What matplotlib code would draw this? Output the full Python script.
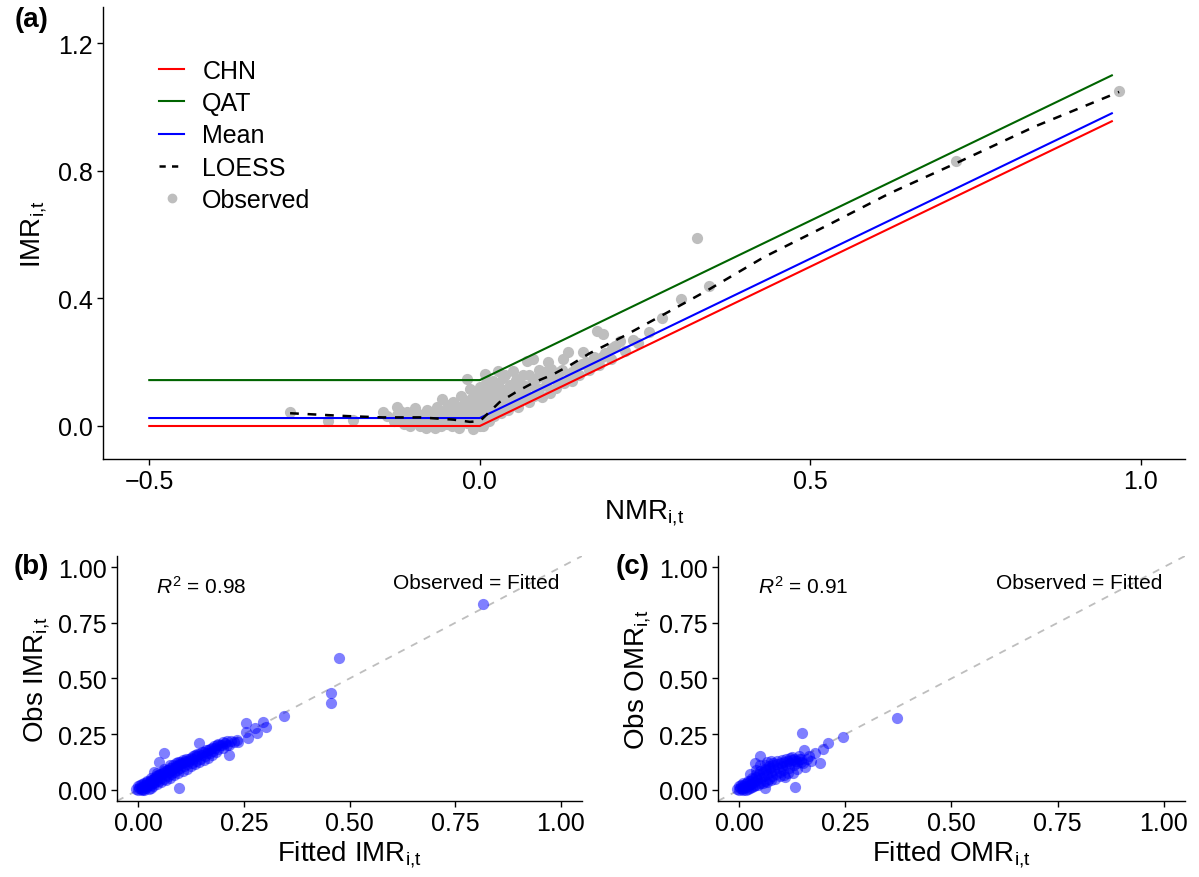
import numpy as np
import matplotlib
matplotlib.use('Agg')
from matplotlib import pyplot as plt
from matplotlib.lines import Line2D

plt.rcParams['font.family'] = ['Liberation Sans', 'DejaVu Sans']
plt.rcParams['mathtext.fontset'] = 'custom'
plt.rcParams['mathtext.rm'] = 'Liberation Sans'
plt.rcParams['mathtext.it'] = 'Liberation Sans:italic'

# ---- panel (a): model lines (NMR -> IMR) ----
line_x = [-0.5, 0.0, 0.956]
chn_y = [0.0, 0.0, 0.956]
qat_y = [0.144, 0.144, 1.100]
mean_y = [0.025, 0.025, 0.981]

loess_x = [-0.287, -0.2, -0.147, -0.09, -0.04, -0.015, 0.0, 0.03, 0.056, 0.083,
           0.109, 0.136, 0.166, 0.216, 0.28, 0.343, 0.43, 0.53, 0.62, 0.721,
           0.84, 0.967]
loess_y = [0.040, 0.031, 0.027, 0.027, 0.020, 0.013, 0.015, 0.075, 0.108, 0.138,
           0.160, 0.190, 0.228, 0.280, 0.352, 0.424, 0.530, 0.634, 0.730, 0.825,
           0.940, 1.048]

obs_nmr = [-0.287, -0.23, -0.192, -0.147, -0.126, -0.12, -0.13, -0.115, -0.108, -0.1,
           -0.095, -0.09, -0.085, -0.08, -0.078, -0.072, -0.068, -0.065, -0.06, -0.057,
           -0.055, -0.05, -0.048, -0.045, -0.04, -0.038, -0.035, -0.032, -0.028, -0.027,
           -0.024, -0.02, -0.02, -0.018, -0.015, -0.014, -0.012, -0.01, -0.008, -0.006,
           -0.004, -0.002, 0.0, 0.0, 0.0,
           -0.14, -0.125, -0.118, -0.11, -0.105, -0.098, -0.092, -0.088, -0.082, -0.076,
           -0.07, -0.062, -0.058, -0.052, -0.046, -0.042, -0.036, -0.03, -0.026, -0.022,
           -0.016, -0.012, -0.008, -0.004, -0.002,
           0.003, 0.004, 0.006, 0.008, 0.008, 0.01, 0.012, 0.014, 0.016, 0.018,
           0.02, 0.022, 0.025, 0.027, 0.028, 0.03, 0.032, 0.035, 0.036, 0.04,
           0.042, 0.045, 0.048, 0.05, 0.052, 0.055, 0.058, 0.06, 0.064, 0.066,
           0.07, 0.071, 0.074, 0.078, 0.08, 0.082, 0.086, 0.09, 0.094, 0.098,
           0.1, 0.103, 0.106, 0.11, 0.115, 0.12, 0.126, 0.128, 0.133, 0.136,
           0.14, 0.145, 0.15, 0.156, 0.16, 0.165, 0.172, 0.177, 0.18, 0.186,
           0.19, 0.198, 0.205, 0.212, 0.22, 0.232, 0.24, 0.256, 0.275, 0.304,
           0.002, 0.005, 0.01, 0.014, 0.018, 0.024, 0.03, 0.034, 0.038, 0.044,
           0.05, 0.054, 0.06, 0.068, 0.075, 0.085, 0.09, 0.1, 0.108, 0.118,
           0.125, 0.14, 0.155, 0.17, 0.185, 0.2,
           0.328, 0.346, 0.721, 0.967]
obs_imr = [0.044, 0.016, 0.019, 0.044, 0.06, 0.047, 0.015, 0.005, 0.03, 0.015,
           0.04, 0.0, 0.025, 0.05, 0.01, 0.035, -0.005, 0.06, 0.02, 0.085,
           0.045, 0.005, 0.065, 0.03, 0.075, 0.015, 0.05, -0.005, 0.094, 0.035,
           0.07, 0.147, 0.01, 0.055, 0.116, 0.085, 0.03, -0.008, 0.1, 0.06,
           0.02, 0.08, 0.122, 0.045, 0.0,
           0.03, 0.035, 0.02, 0.045, 0.0, 0.055, 0.02, 0.035, -0.005, 0.045,
           0.015, 0.04, 0.0, 0.025, 0.05, 0.0, 0.03, 0.06, 0.015, 0.045,
           0.07, 0.005, 0.04, 0.1, 0.055,
           0.1, 0.02, 0.065, 0.163, 0.04, 0.135, 0.085, 0.015, 0.11, 0.055,
           0.14, 0.03, 0.09, 0.173, 0.065, 0.12, 0.04, 0.15, 0.08, 0.105,
           0.05, 0.13, 0.07, 0.173, 0.095, 0.145, 0.06, 0.115, 0.085, 0.16,
           0.1, 0.204, 0.075, 0.13, 0.21, 0.095, 0.15, 0.115, 0.09, 0.17,
           0.13, 0.2, 0.105, 0.15, 0.12, 0.17, 0.21, 0.135, 0.232, 0.16,
           0.14, 0.185, 0.16, 0.232, 0.2, 0.175, 0.215, 0.298, 0.19, 0.289,
           0.23, 0.21, 0.25, 0.267, 0.235, 0.27, 0.26, 0.295, 0.339, 0.398,
           0.075, 0.0, 0.11, 0.05, 0.09, 0.125, 0.05, 0.1, 0.16, 0.08,
           0.12, 0.075, 0.14, 0.125, 0.16, 0.12, 0.175, 0.15, 0.18, 0.14,
           0.175, 0.17, 0.195, 0.19, 0.215, 0.245,
           0.59, 0.44, 0.83, 1.052]

# ---- panel (b): fitted vs observed IMR ----
fit_imr = [0.0, 0.003, 0.006, 0.0, 0.01, 0.012, 0.015, 0.018, 0.02, 0.022,
           0.025, 0.028, 0.03, 0.032, 0.035, 0.038, 0.04, 0.037, 0.042, 0.045,
           0.048, 0.05, 0.052, 0.055, 0.058, 0.06, 0.062, 0.065, 0.068, 0.07,
           0.072, 0.075, 0.078, 0.08, 0.083, 0.085, 0.088, 0.09, 0.092, 0.095,
           0.098, 0.1, 0.103, 0.106, 0.108, 0.11, 0.114, 0.116, 0.12, 0.124,
           0.127, 0.13, 0.134, 0.137, 0.14, 0.144, 0.147, 0.15, 0.155, 0.158,
           0.162, 0.166, 0.17, 0.174, 0.178, 0.182, 0.186, 0.19, 0.194, 0.198,
           0.2, 0.205, 0.21, 0.214, 0.22, 0.226, 0.233, 0.237,
           0.005, 0.01, 0.015, 0.02, 0.025, 0.03, 0.035, 0.04, 0.045, 0.05,
           0.055, 0.06, 0.065, 0.07, 0.075, 0.08, 0.085, 0.09, 0.095, 0.1,
           0.105, 0.11, 0.115, 0.12, 0.125, 0.13, 0.135, 0.14, 0.145, 0.15,
           0.155, 0.16, 0.165, 0.17, 0.175, 0.18, 0.185, 0.19, 0.2, 0.21,
           0.02, 0.03, 0.045, 0.06, 0.075, 0.095, -0.005, 0.008, 0.015, 0.03,
           0.143, 0.061, 0.049, 0.096, 0.214, 0.26, 0.256, 0.28, 0.256, 0.276,
           0.296, 0.303, 0.344, 0.456, 0.456, 0.475, 0.816]
obs_imr_b = [0.0, 0.008, 0.002, 0.015, 0.012, 0.004, 0.02, 0.01, 0.028, 0.015,
             0.022, 0.035, 0.02, 0.042, 0.03, 0.05, 0.035, 0.08, 0.06, 0.045,
             0.065, 0.04, 0.07, 0.055, 0.075, 0.05, 0.085, 0.065, 0.09, 0.06,
             0.08, 0.1, 0.07, 0.09, 0.11, 0.08, 0.1, 0.12, 0.09, 0.11,
             0.125, 0.1, 0.12, 0.135, 0.105, 0.125, 0.14, 0.115, 0.13, 0.145,
             0.12, 0.14, 0.155, 0.13, 0.15, 0.16, 0.14, 0.155, 0.17, 0.15,
             0.165, 0.18, 0.165, 0.189, 0.175, 0.19, 0.2, 0.185, 0.2, 0.203,
             0.19, 0.21, 0.2, 0.203, 0.22, 0.216, 0.225, 0.216,
             0.02, 0.025, 0.0, 0.035, 0.005, 0.045, 0.015, 0.055, 0.025, 0.065,
             0.035, 0.078, 0.045, 0.088, 0.055, 0.098, 0.065, 0.108, 0.075, 0.118,
             0.085, 0.13, 0.095, 0.14, 0.105, 0.15, 0.115, 0.16, 0.125, 0.168,
             0.135, 0.178, 0.145, 0.185, 0.155, 0.198, 0.168, 0.205, 0.215, 0.218,
             0.04, 0.055, 0.075, 0.095, 0.11, 0.125, 0.005, 0.0, 0.03, 0.01,
             0.212, 0.167, 0.126, 0.009, 0.158, 0.234, 0.261, 0.257, 0.30, 0.279,
             0.306, 0.284, 0.333, 0.437, 0.392, 0.59, 0.833]

# ---- panel (c): fitted vs observed OMR ----
fit_omr = [0.0, 0.003, 0.006, 0.0, 0.008, 0.01, 0.013, 0.016, 0.018, 0.02,
           0.022, 0.025, 0.028, 0.03, 0.032, 0.035, 0.038, 0.038, 0.04, 0.043,
           0.046, 0.049, 0.05, 0.052, 0.055, 0.058, 0.06, 0.061, 0.061, 0.063,
           0.066, 0.07, 0.072, 0.075, 0.075, 0.078, 0.08, 0.083, 0.086, 0.089,
           0.092, 0.095, 0.098, 0.1, 0.103, 0.106, 0.108, 0.11, 0.114, 0.117,
           0.12, 0.124, 0.125, 0.127, 0.128, 0.132, 0.133, 0.137, 0.14, 0.14,
           0.145, 0.148, 0.153, 0.155, 0.16, 0.179, 0.191, 0.198, 0.209, 0.245,
           0.005, 0.01, 0.015, 0.02, 0.025, 0.03, 0.035, 0.04, 0.045, 0.05,
           0.055, 0.06, 0.065, 0.07, 0.075, 0.08, 0.085, 0.09, 0.095, 0.1,
           0.105, 0.11, 0.115, 0.12, 0.13, 0.135, 0.145, 0.15, 0.165, 0.17,
           0.05, 0.065, 0.04, 0.025, -0.005, 0.008,
           0.372]
obs_omr = [0.0, 0.008, 0.002, 0.015, 0.018, 0.006, 0.025, 0.012, 0.032, 0.004,
           0.02, 0.04, 0.028, 0.012, 0.048, 0.035, 0.122, 0.02, 0.058, 0.042,
           0.07, 0.153, 0.03, 0.052, 0.08, 0.062, 0.04, 0.009, 0.113, 0.09,
           0.07, 0.05, 0.1, 0.08, 0.128, 0.06, 0.11, 0.09, 0.07, 0.115,
           0.1, 0.08, 0.12, 0.105, 0.09, 0.125, 0.059, 0.11, 0.13, 0.1,
           0.12, 0.135, 0.149, 0.077, 0.11, 0.014, 0.13, 0.12, 0.138, 0.15,
           0.125, 0.257, 0.18, 0.104, 0.14, 0.167, 0.122, 0.185, 0.212, 0.239,
           0.02, 0.03, 0.0, 0.04, 0.01, 0.055, 0.015, 0.07, 0.02, 0.085,
           0.03, 0.095, 0.035, 0.105, 0.045, 0.12, 0.05, 0.13, 0.06, 0.135,
           0.065, 0.14, 0.075, 0.145, 0.14, 0.095, 0.14, 0.12, 0.15, 0.13,
           0.11, 0.125, 0.09, 0.07, 0.005, 0.0,
           0.324]

ticks01 = [0.0, 0.25, 0.5, 0.75, 1.0]
tick_labels01 = ['0.00', '0.25', '0.50', '0.75', '1.00']
sub_it = r'$_{\mathrm{i{,}t}}$'


def style_axes(ax):
    for side in ['top', 'right']:
        ax.spines[side].set_visible(False)
    for side in ['left', 'bottom']:
        ax.spines[side].set_linewidth(1.0)
    ax.tick_params(length=4.5, width=1.0, labelsize=18, pad=3, colors='black')


fig = plt.figure(figsize=(11.99, 8.78), dpi=100)

# panel (a)
ax = fig.add_axes([0.0859, 0.4761, 0.9024, 0.5148])
ax.scatter(obs_nmr, obs_imr, s=65, color='#BEBEBE', linewidths=0, zorder=1)
ax.plot(line_x, chn_y, color='red', lw=1.5, zorder=2)
ax.plot(line_x, qat_y, color='darkgreen', lw=1.5, zorder=2)
ax.plot(line_x, mean_y, color='blue', lw=1.5, zorder=2)
ax.plot(loess_x, loess_y, color='black', lw=1.8, ls=(0, (3.5, 3.5)), zorder=3)
ax.set_xlim(-0.570, 1.0666)
ax.set_ylim(-0.1035, 1.3145)
ax.set_xticks([-0.5, 0.0, 0.5, 1.0])
ax.set_yticks([0.0, 0.4, 0.8, 1.2])
style_axes(ax)
ax.set_xlabel('NMR' + sub_it, fontsize=20, labelpad=3)
ax.set_ylabel('IMR' + sub_it, fontsize=20, labelpad=6)
handles = [Line2D([], [], color='red', lw=1.5),
           Line2D([], [], color='darkgreen', lw=1.5),
           Line2D([], [], color='blue', lw=1.5),
           Line2D([], [], color='black', lw=1.8, ls=(0, (2.5, 2.5))),
           Line2D([], [], color='#BEBEBE', marker='o', ls='none', markersize=6)]
ax.legend(handles, ['CHN', 'QAT', 'Mean', 'LOESS', 'Observed'],
          loc='upper left', bbox_to_anchor=(0.052, 0.885), frameon=False,
          fontsize=18, handlelength=1.0, handletextpad=0.72,
          labelspacing=0.33, borderaxespad=0, borderpad=0)

# panels (b) and (c)
panels = [
    ([0.0976, 0.0866, 0.3878, 0.279], fit_imr, obs_imr_b, 'IMR', '0.98'),
    ([0.5988, 0.0866, 0.3895, 0.279], fit_omr, obs_omr, 'OMR', '0.91'),
]
for rect, xs, ys, name, r2 in panels:
    ax = fig.add_axes(rect)
    ax.axline((0, 0), slope=1, color='#BEBEBE', lw=1.3, ls=(0, (4, 4)), zorder=1)
    ax.scatter(xs, ys, s=65, color='blue', alpha=0.5, linewidths=0, zorder=2)
    ax.set_xlim(-0.05, 1.05)
    ax.set_ylim(-0.05, 1.05)
    ax.set_xticks(ticks01)
    ax.set_xticklabels(tick_labels01)
    ax.set_yticks(ticks01)
    ax.set_yticklabels(tick_labels01)
    style_axes(ax)
    ax.set_xlabel('Fitted ' + name + sub_it, fontsize=20, labelpad=2)
    ax.set_ylabel('Obs ' + name + sub_it, fontsize=20, labelpad=4)
    ax.text(0.15, 0.915, '$R^2$ = ' + r2, fontsize=15, ha='center', va='center')
    ax.text(0.80, 0.93, 'Observed = Fitted', fontsize=15, ha='center', va='center')

fig.text(0.026, 0.977, '(a)', fontsize=20, fontweight='bold', ha='center', va='center')
fig.text(0.026, 0.354, '(b)', fontsize=20, fontweight='bold', ha='center', va='center')
fig.text(0.528, 0.354, '(c)', fontsize=20, fontweight='bold', ha='center', va='center')

fig.savefig('out.png', dpi=100)
